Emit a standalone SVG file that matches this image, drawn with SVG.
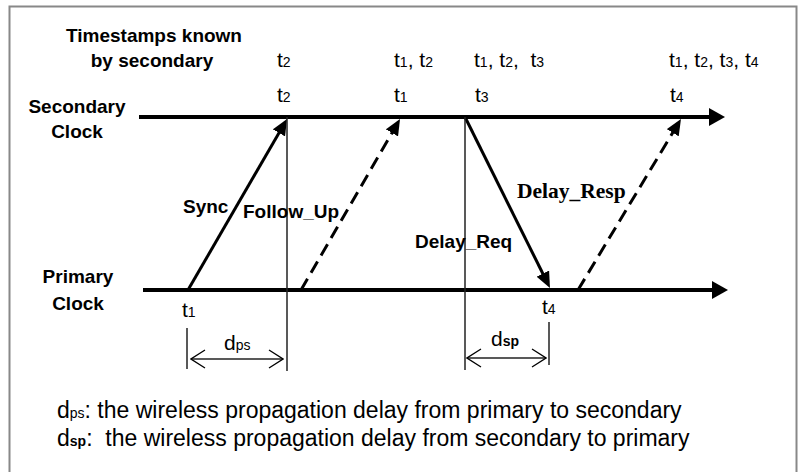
<svg xmlns="http://www.w3.org/2000/svg" width="804" height="472" viewBox="0 0 804 472">
<defs>
<style>
.b{font-family:"Liberation Sans",Arial,sans-serif;font-weight:bold;font-size:19px;fill:#000}
.tm{font-family:"Liberation Serif","Times New Roman",serif;font-weight:bold;font-size:21.5px;fill:#000}
.t{font-family:"Liberation Sans",Arial,sans-serif;font-size:21px;fill:#000;white-space:pre}
.s{font-size:14px}
.body{font-family:"Liberation Sans",Arial,sans-serif;font-size:23px;fill:#000;white-space:pre}
.sb{font-size:14px}
.axis{stroke:#000;stroke-width:4;fill:none}
.msg{stroke:#000;stroke-width:3;fill:none}
.dash{stroke-dasharray:13 7}
.thin{stroke:#222;stroke-width:1.5;fill:none}
</style>
<marker id="ah" viewBox="0 0 16 14" refX="6" refY="7" markerWidth="16" markerHeight="14" markerUnits="userSpaceOnUse" orient="auto">
<path d="M0,0 L16,7 L0,14 z" fill="#000"/>
</marker>
<marker id="big" viewBox="0 0 16 18" refX="6" refY="9" markerWidth="16" markerHeight="18" markerUnits="userSpaceOnUse" orient="auto">
<path d="M0,0 L16,9 L0,18 z" fill="#000"/>
</marker>
<marker id="open" viewBox="-1 -1 16 20" refX="14" refY="9" markerWidth="16" markerHeight="20" markerUnits="userSpaceOnUse" orient="auto-start-reverse">
<path d="M0,0 L14,9 L0,18" fill="none" stroke="#000" stroke-width="1.3"/>
</marker>
</defs>
<rect x="0" y="0" width="804" height="472" fill="#fff"/>
<rect x="9.5" y="6.5" width="787" height="475" fill="none" stroke="#888" stroke-width="2"/>

<g id="header">
<text class="b" x="154" y="42" text-anchor="middle">Timestamps known</text>
<text class="b" x="152" y="67" text-anchor="middle">by secondary</text>
</g>

<g id="secondary-clock">
<text class="b" x="77" y="113" text-anchor="middle">Secondary</text>
<text class="b" x="77" y="138" text-anchor="middle">Clock</text>
</g>

<g id="primary-clock">
<text class="b" x="78" y="283" text-anchor="middle">Primary</text>
<text class="b" x="78" y="310" text-anchor="middle">Clock</text>
</g>

<g id="known-timestamps">
<text class="t" x="277" y="67">t<tspan class="s">2</tspan></text>
<text class="t" x="394" y="67">t<tspan class="s">1</tspan>, t<tspan class="s">2</tspan></text>
<text class="t" x="474" y="67">t<tspan class="s">1</tspan>, t<tspan class="s">2</tspan>,  t<tspan class="s">3</tspan></text>
<text class="t" x="669" y="67">t<tspan class="s">1</tspan>, t<tspan class="s">2</tspan>, t<tspan class="s">3</tspan>, t<tspan class="s">4</tspan></text>
</g>

<g id="secondary-events">
<text class="t" x="277" y="102">t<tspan class="s">2</tspan></text>
<text class="t" x="394" y="102">t<tspan class="s">1</tspan></text>
<text class="t" x="475" y="102">t<tspan class="s">3</tspan></text>
<text class="t" x="670" y="102">t<tspan class="s">4</tspan></text>
</g>

<g id="primary-events">
<text class="t" x="182" y="317">t<tspan class="s">1</tspan></text>
<text class="t" x="542" y="314">t<tspan class="s">4</tspan></text>
</g>

<g id="connectors">
<line class="axis" x1="139" y1="117" x2="715" y2="117" marker-end="url(#big)"/>
<line class="axis" x1="143" y1="290" x2="718" y2="290" marker-end="url(#big)"/>
<line class="msg" x1="188" y1="290" x2="282" y2="127.7" marker-end="url(#ah)"/>
<line class="msg dash" x1="301" y1="290" x2="395" y2="127.7" marker-end="url(#ah)"/>
<line class="msg" x1="465" y1="117" x2="545.5" y2="279" marker-end="url(#ah)"/>
<line class="msg dash" x1="578" y1="290" x2="675.8" y2="127.6" marker-end="url(#ah)"/>
<line class="thin" x1="287" y1="117" x2="287" y2="371"/>
<line class="thin" x1="465" y1="117" x2="465" y2="370"/>
<line class="thin" x1="187" y1="328" x2="187" y2="369"/>
<line class="thin" x1="549" y1="322" x2="549" y2="365"/>
<line class="thin" x1="191" y1="359" x2="283" y2="359" marker-start="url(#open)" marker-end="url(#open)"/>
<line class="thin" x1="467" y1="358" x2="546" y2="358" marker-start="url(#open)" marker-end="url(#open)"/>
</g>

<g id="message-labels">
<text class="b" x="183" y="213">Sync</text>
<text class="b" x="243" y="218">Follow_Up</text>
<text class="b" x="415" y="248">Delay_Req</text>
<text class="tm" x="517" y="198">Delay_Resp</text>
</g>

<g id="delay-labels">
<text class="t" x="224" y="350">d<tspan class="s">ps</tspan></text>
<text class="t" x="491" y="346">d<tspan class="s" font-weight="bold">sp</tspan></text>
</g>

<g id="legend">
<text class="body" x="57" y="418">d<tspan class="sb">ps</tspan>: the wireless propagation delay from primary to secondary</text>
<text class="body" x="57" y="446">d<tspan class="sb" font-weight="bold">sp</tspan>:  the wireless propagation delay from secondary to primary</text>
</g>
</svg>
